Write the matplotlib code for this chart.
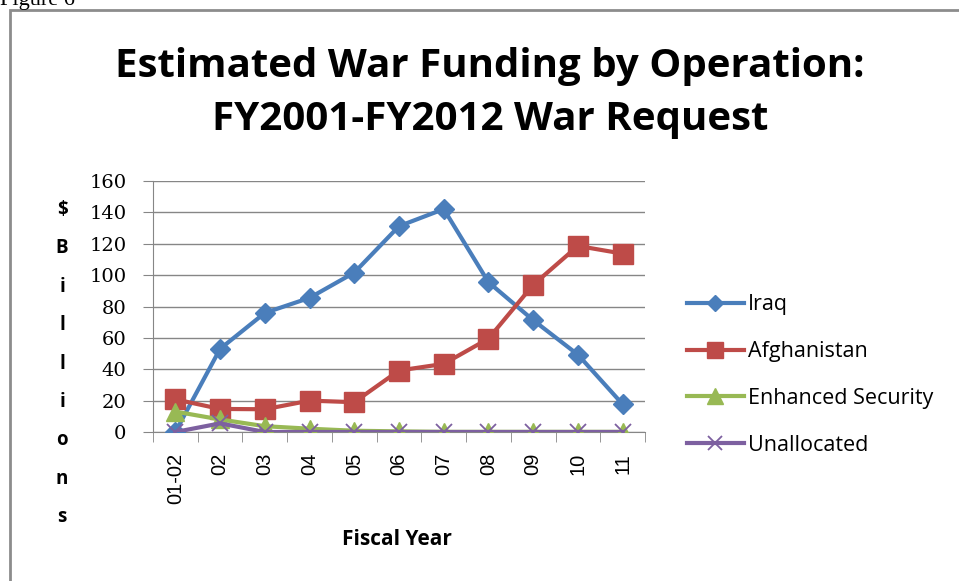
import matplotlib.pyplot as plt
from matplotlib.patches import Rectangle

years = ["01-02", "02", "03", "04", "05", "06", "07", "08", "09", "10", "11"]
iraq = [0, 53.0, 75.9, 85.5, 101.6, 131.2, 142.1, 95.5, 71.3, 49.3, 17.7]
afghanistan = [20.8, 14.7, 14.5, 20.0, 19.0, 39.2, 43.4, 59.5, 93.8, 118.6, 113.7]
enhanced = [13.0, 8.0, 3.7, 2.1, 0.8, 0.4, 0.1, 0.1, 0.1, 0.1, 0.1]
unallocated = [0, 5.5, 0, 0, 0, 0, 0, 0, 0, 0, 0]

W, H = 959, 581
fig = plt.figure(figsize=(W / 100, H / 100), dpi=100)
ax = fig.add_axes([153 / W, 1 - 432 / H, 492 / W, 251 / H])

x = range(len(years))
ax.plot(x, iraq, color="#4A7EBB", lw=3, marker="D", ms=10, label="Iraq", zorder=3)
ax.plot(x, afghanistan, color="#BE4B48", lw=3, marker="s", ms=14, label="Afghanistan", zorder=3)
ax.plot(x, enhanced, color="#98B954", lw=3, marker="^", ms=13, label="Enhanced Security", zorder=4)
ax.plot(x, unallocated, color="#7D60A0", lw=3, marker="x", ms=12, mew=1.3, label="Unallocated", zorder=5)

ax.set_xlim(-0.5, len(years) - 0.5)
ax.set_ylim(0, 160)
ax.set_yticks(range(0, 161, 20))
ax.grid(axis="y", color="#868686", lw=1)
ax.set_axisbelow(True)

ax.set_xticks(list(x))
ax.set_xticklabels(years, rotation=90, fontsize=14.5, family="Liberation Sans")
ax.set_xticks([i - 0.5 for i in range(len(years) + 1)], minor=True)
ax.tick_params(axis="x", which="major", length=0, pad=15)
ax.tick_params(axis="x", which="minor", length=7, color="#868686", direction="out")
ax.tick_params(axis="y", length=7, color="#868686", labelsize=14, pad=12)
for lab in ax.get_yticklabels():
    lab.set_family("DejaVu Serif")

for s in ["top", "right"]:
    ax.spines[s].set_visible(False)
ax.spines["left"].set_color("#868686")
ax.spines["bottom"].set_color("#868686")

fig.text(397 / W, 1 - 545 / H, "Fiscal Year", ha="center", va="baseline",
         fontsize=15, fontweight="bold", family="Open Sans")

# vertical stacked y-axis label
for i, ch in enumerate("$Billions"):
    fig.text(62 / W, 1 - (210 + i * 38.4) / H, ch, ha="center", va="center",
             fontsize=13.5, fontweight="bold", family="Open Sans")

fig.text(490 / W, 1 - 77 / H, "Estimated War Funding by Operation:", ha="center", va="baseline",
         fontsize=29, fontweight="bold", family="Open Sans")
fig.text(490 / W, 1 - 130 / H, "FY2001-FY2012 War Request", ha="center", va="baseline",
         fontsize=29, fontweight="bold", family="Open Sans")

fig.text(0, 1 - 5 / H, "Figure 6", ha="left", va="baseline", fontsize=16, family="Liberation Serif")

fig.patches.append(Rectangle((10 / W, -0.1), 1.2, 1 - 10 / H + 0.1, transform=fig.transFigure,
                             fill=False, edgecolor="#8C8C8C", lw=2))

ax.legend(loc="center left", bbox_to_anchor=(678 / W, 1 - 375 / H), bbox_transform=fig.transFigure,
          frameon=False, handlelength=2.65, labelspacing=1.2, handletextpad=0.2,
          borderaxespad=0, markerscale=0.85, prop={"family": "Open Sans", "size": 15.5})

fig.savefig("out.png", dpi=100)
